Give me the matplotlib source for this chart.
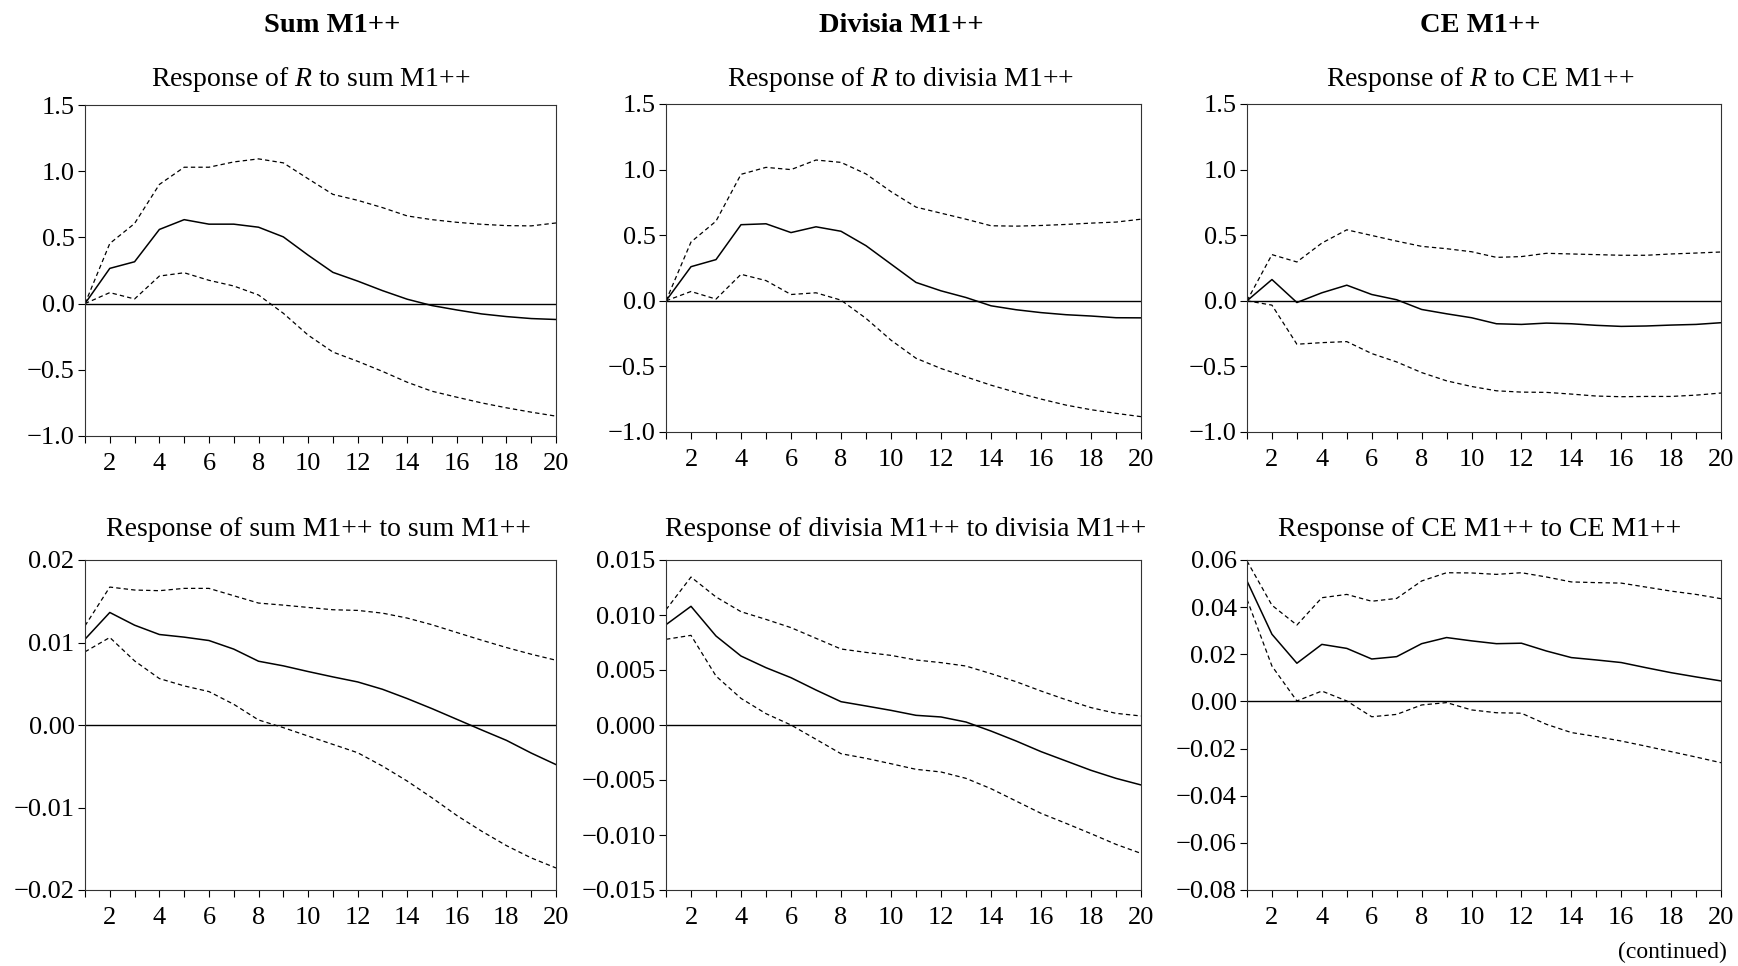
import matplotlib
matplotlib.use("Agg")
from matplotlib import pyplot as plt

plt.rcParams['font.family'] = ['Liberation Serif', 'DejaVu Serif']
plt.rcParams['mathtext.fontset'] = 'custom'
plt.rcParams['mathtext.rm'] = 'Liberation Serif'
plt.rcParams['mathtext.it'] = 'Liberation Serif:italic'

periods = list(range(1, 21))

column_titles = ['Sum M1++', 'Divisia M1++', 'CE M1++']
panel_titles = [
    'Response of $R$ to sum M1++',
    'Response of $R$ to divisia M1++',
    'Response of $R$ to CE M1++',
    'Response of sum M1++ to sum M1++',
    'Response of divisia M1++ to divisia M1++',
    'Response of CE M1++ to CE M1++',
]

# response of R to sum M1++
r_sum = [0.0, 0.266, 0.316, 0.56, 0.634, 0.60, 0.60, 0.577, 0.504, 0.366,
         0.236, 0.17, 0.098, 0.033, -0.015, -0.048, -0.078, -0.098, -0.113, -0.12]
r_sum_hi = [0.0, 0.454, 0.605, 0.90, 1.03, 1.03, 1.07, 1.093, 1.063, 0.943,
            0.825, 0.78, 0.725, 0.662, 0.634, 0.614, 0.599, 0.589, 0.587, 0.609]
r_sum_lo = [0.0, 0.083, 0.035, 0.208, 0.233, 0.176, 0.133, 0.065, -0.073, -0.238,
            -0.366, -0.436, -0.512, -0.594, -0.662, -0.707, -0.75, -0.787, -0.82, -0.85]

# response of R to divisia M1++
r_div = [0.0, 0.26, 0.314, 0.58, 0.587, 0.52, 0.564, 0.53, 0.42, 0.28,
         0.14, 0.076, 0.025, -0.038, -0.068, -0.09, -0.106, -0.116, -0.129, -0.13]
r_div_hi = [0.0, 0.448, 0.607, 0.964, 1.017, 1.0, 1.073, 1.055, 0.967, 0.832,
            0.714, 0.668, 0.622, 0.572, 0.569, 0.574, 0.582, 0.592, 0.60, 0.622]
r_div_lo = [0.0, 0.071, 0.013, 0.202, 0.154, 0.048, 0.061, 0.005, -0.134, -0.30,
            -0.438, -0.516, -0.58, -0.643, -0.698, -0.749, -0.795, -0.83, -0.858, -0.883]

# response of R to CE M1++
r_ce = [0.0, 0.162, -0.013, 0.061, 0.119, 0.048, 0.008, -0.066, -0.099, -0.129,
        -0.175, -0.18, -0.17, -0.175, -0.187, -0.195, -0.192, -0.185, -0.18, -0.167]
r_ce_hi = [0.0, 0.352, 0.296, 0.44, 0.541, 0.498, 0.455, 0.415, 0.397, 0.374,
           0.331, 0.337, 0.362, 0.357, 0.352, 0.347, 0.347, 0.357, 0.364, 0.372]
r_ce_lo = [0.0, -0.033, -0.331, -0.319, -0.311, -0.402, -0.466, -0.547, -0.61, -0.653,
           -0.686, -0.696, -0.698, -0.711, -0.726, -0.731, -0.729, -0.729, -0.719, -0.703]

# own responses
sum_sum = [0.0104, 0.01364, 0.0121, 0.01097, 0.01065, 0.01024, 0.0092, 0.00773, 0.00717, 0.00648,
           0.00583, 0.00522, 0.00433, 0.0032, 0.00198, 0.00069, -0.0006, -0.00186, -0.0034, -0.0048]
sum_sum_hi = [0.01202, 0.01672, 0.01636, 0.01628, 0.01656, 0.01656, 0.01567, 0.01478, 0.01453, 0.01425,
              0.01397, 0.01389, 0.01356, 0.01296, 0.01215, 0.01121, 0.01028, 0.00939, 0.00858, 0.00785]
sum_sum_lo = [0.00887, 0.01061, 0.00777, 0.00563, 0.00474, 0.00405, 0.00251, 0.00061, -0.00032, -0.00134,
              -0.00235, -0.00336, -0.00498, -0.0068, -0.00883, -0.01097, -0.01287, -0.01462, -0.01611, -0.01733]

div_div = [0.00912, 0.01079, 0.00809, 0.00627, 0.00521, 0.0043, 0.00318, 0.00212, 0.00173, 0.00133,
           0.00088, 0.00073, 0.00027, -0.00055, -0.00145, -0.00242, -0.00327, -0.00412, -0.00485, -0.00545]
div_div_hi = [0.01048, 0.01345, 0.01164, 0.0103, 0.0096, 0.00885, 0.00788, 0.00691, 0.0066, 0.00633,
              0.00591, 0.00567, 0.00536, 0.00467, 0.00394, 0.00309, 0.0023, 0.00158, 0.00106, 0.00082]
div_div_lo = [0.00779, 0.00815, 0.00445, 0.00242, 0.00103, 0.0, -0.0013, -0.00261, -0.00303, -0.00352,
              -0.00403, -0.00427, -0.00485, -0.00579, -0.00691, -0.00803, -0.00894, -0.00988, -0.01085, -0.01167]

ce_ce = [0.0511, 0.0285, 0.0162, 0.0242, 0.0225, 0.018, 0.019, 0.0245, 0.0271, 0.0257,
         0.0245, 0.0247, 0.0214, 0.0186, 0.0176, 0.0165, 0.0143, 0.0122, 0.0104, 0.0087]
ce_ce_hi = [0.0596, 0.0408, 0.0324, 0.044, 0.0454, 0.0425, 0.0437, 0.0511, 0.0546, 0.0545,
            0.0539, 0.0546, 0.0528, 0.0507, 0.0504, 0.0502, 0.0485, 0.0468, 0.0454, 0.0436]
ce_ce_lo = [0.0433, 0.015, 0.0002, 0.0044, 0.0002, -0.0065, -0.0055, -0.0015, -0.0005, -0.0036,
            -0.0048, -0.005, -0.0097, -0.0132, -0.0149, -0.0168, -0.019, -0.0213, -0.0236, -0.026]

series = [
    (r_sum, r_sum_hi, r_sum_lo),
    (r_div, r_div_hi, r_div_lo),
    (r_ce, r_ce_hi, r_ce_lo),
    (sum_sum, sum_sum_hi, sum_sum_lo),
    (div_div, div_div_hi, div_div_lo),
    (ce_ce, ce_ce_hi, ce_ce_lo),
]

y_ticks = [
    [-1.0, -0.5, 0.0, 0.5, 1.0, 1.5],
    [-1.0, -0.5, 0.0, 0.5, 1.0, 1.5],
    [-1.0, -0.5, 0.0, 0.5, 1.0, 1.5],
    [-0.02, -0.01, 0.0, 0.01, 0.02],
    [-0.015, -0.010, -0.005, 0.0, 0.005, 0.010, 0.015],
    [-0.08, -0.06, -0.04, -0.02, 0.0, 0.02, 0.04, 0.06],
]
y_fmt = ['%.1f', '%.1f', '%.1f', '%.2f', '%.3f', '%.2f']

W, H = 1738, 966
fig = plt.figure(figsize=(W / 100, H / 100), dpi=100)

# axes boxes in pixels: left, right, top, bottom
boxes = [
    (85, 556, 105, 436), (666, 1141, 104, 432), (1247, 1721, 104, 432),
    (85, 556, 560, 890), (666, 1141, 560, 890), (1247, 1721, 560, 890),
]
title_x = [332, 901, 1480]
sub_x = [311, 901, 1480, 318, 906, 1480]
sub_y = [79, 79, 79, 530, 530, 530]

for i in range(6):
    l, rgt, top, bot = boxes[i]
    ax = fig.add_axes([l / W, 1 - bot / H, (rgt - l) / W, (bot - top) / H])
    mid, hi, lo = series[i]
    ax.axhline(0, color='black', lw=1.0)
    ax.plot(periods, mid, color='black', lw=1.1)
    ax.plot(periods, hi, color='black', lw=0.9, linestyle=(0, (3.5, 2.5)))
    ax.plot(periods, lo, color='black', lw=0.9, linestyle=(0, (3.5, 2.5)))
    ax.set_xlim(1, 20)
    ax.set_ylim(y_ticks[i][0], y_ticks[i][-1])
    ax.set_xticks(periods)
    ax.set_xticklabels([str(p) if p % 2 == 0 else '' for p in periods])
    ax.set_yticks(y_ticks[i])
    ax.set_yticklabels([(y_fmt[i] % v).replace('-', '\u2212') if v != 0 else y_fmt[i] % 0
                        for v in y_ticks[i]])
    ax.tick_params(direction='out', length=5, width=0.8, labelsize=19)
    ax.tick_params(axis='y', pad=2.5)
    ax.tick_params(axis='x', pad=7.5)
    for s in ax.spines.values():
        s.set_linewidth(0.8)
        s.set_color('#333333')
    fig.text(sub_x[i] / W, 1 - sub_y[i] / H, panel_titles[i],
             ha='center', va='center', fontsize=20)

for c in range(3):
    fig.text(title_x[c] / W, 1 - 26 / H, column_titles[c],
             ha='center', va='center', fontsize=20.5, fontweight='bold')

fig.text(1727 / W, 1 - 952 / H, '(continued)', ha='right', va='center', fontsize=17)

fig.savefig('out.png', dpi=100)
